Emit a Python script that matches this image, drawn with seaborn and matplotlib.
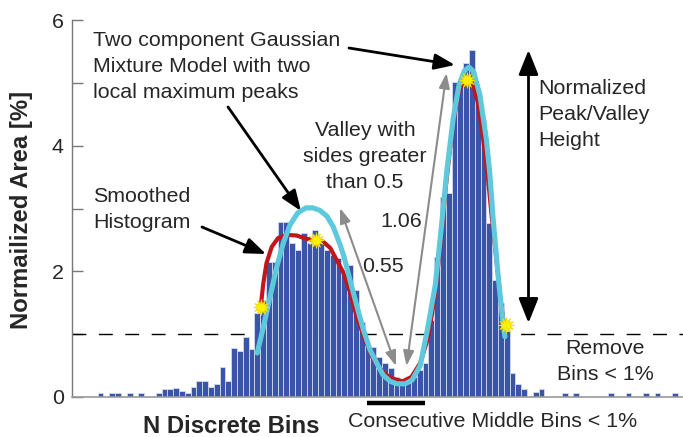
import matplotlib
matplotlib.use("Agg")
import matplotlib.pyplot as plt
import numpy as np
import pandas as pd
import seaborn as sns

# normalized area [%] of each discrete bin (bins 0..99)
bin_area = [
    0.07, 0.00, 0.07, 0.07, 0.00, 0.07, 0.00, 0.07, 0.00, 0.00,   # 0-9
    0.07, 0.12, 0.12, 0.15, 0.10, 0.07, 0.16, 0.25, 0.25, 0.16,   # 10-19
    0.20, 0.47, 0.25, 0.78, 0.73, 0.95, 0.77, 1.33, 1.55, 2.15,   # 20-29
    2.15, 2.79, 2.79, 2.45, 2.34, 2.61, 2.45, 2.66, 2.45, 2.34,   # 30-39
    2.26, 2.21, 1.94, 2.10, 1.70, 1.20, 0.80, 0.80, 0.64, 0.54,   # 40-49
    0.46, 0.32, 0.27, 0.22, 0.32, 0.43, 0.54, 1.23, 2.23, 3.19,   # 50-59
    3.24, 5.02, 4.94, 5.31, 5.52, 4.80, 4.41, 2.77, 1.86, 1.50,   # 60-69
    1.05, 0.38, 0.20, 0.12, 0.00, 0.08, 0.12, 0.00, 0.00, 0.00,   # 70-79
    0.06, 0.00, 0.06, 0.00, 0.00, 0.00, 0.00, 0.00, 0.06, 0.00,   # 80-89
    0.00, 0.06, 0.00, 0.00, 0.06, 0.00, 0.06, 0.00, 0.00, 0.06,   # 90-99
]

# smoothed histogram (red)
smooth_x = [27.6, 28.05, 28.6, 29.5, 30.6, 32.1, 33.8, 35.4, 36.7, 38.4,
            39.6, 40.7, 41.8, 43.0, 44.2, 45.6, 46.8, 48.2, 49.55, 50.8,
            52.1, 53.6, 55.1, 56.45, 57.5, 58.5, 59.55, 60.6, 61.6, 62.5,
            63.3, 64.1, 65.0, 65.9, 66.8, 67.4, 68.0, 68.9, 69.4, 69.9]
smooth_y = [1.43, 1.81, 2.13, 2.39, 2.53, 2.58, 2.57, 2.52, 2.50, 2.47,
            2.37, 2.18, 1.99, 1.67, 1.26, 0.91, 0.64, 0.45, 0.33, 0.28,
            0.25, 0.32, 0.54, 0.94, 1.54, 2.34, 3.38, 4.25, 4.81, 5.02,
            5.07, 5.00, 4.70, 4.15, 3.46, 2.90, 2.39, 1.60, 1.23, 1.14]

# two component gaussian mixture fit (cyan)
gmm_x = [27.0, 28.05, 29.2, 30.36, 31.5, 32.66, 34.0, 35.4, 36.6, 37.8,
         39.0, 40.1, 41.3, 42.0, 43.0, 44.2, 45.3, 46.45, 47.6, 48.7,
         49.9, 51.1, 52.5, 53.7, 55.1, 56.4, 57.7, 58.7, 59.7, 60.8,
         61.8, 62.7, 63.5, 64.3, 65.4, 66.5, 67.1, 67.7, 68.6, 69.2, 69.7]
gmm_y = [0.70, 1.11, 1.59, 2.07, 2.45, 2.74, 2.93, 3.01, 3.01, 2.97,
         2.88, 2.71, 2.42, 2.22, 1.86, 1.44, 1.07, 0.75, 0.54, 0.35,
         0.25, 0.21, 0.21, 0.27, 0.50, 1.10, 1.78, 2.66, 3.61, 4.44,
         4.97, 5.19, 5.25, 5.18, 4.80, 4.10, 3.55, 2.80, 1.86, 1.33, 0.96]

# yellow markers on the smoothed histogram
mark_x = [27.6, 37.1, 63.2, 69.9]
mark_y = [1.43, 2.50, 5.05, 1.14]

BAR_BLUE = "#3a54a8"
RED = "#c2161d"
CYAN = "#5ec8dc"
GREY = "#8c8c8c"
FONT = "Liberation Sans"
FS = 15.4

W, H = 683, 437


def main() -> None:
    sns.set_style("white")
    plt.rcParams["font.family"] = [FONT, "DejaVu Sans"]

    fig = plt.figure(figsize=(W / 100, H / 100), dpi=100)
    ax = fig.add_axes([72 / W, 40 / H, (W - 72) / W, 377 / H])

    df = pd.DataFrame({"bin": np.arange(len(bin_area)), "area": bin_area})
    sns.barplot(data=df[df["area"] > 0], x="bin", y="area", native_scale=True,
                width=1.0, color=BAR_BLUE, saturation=1, errorbar=None,
                edgecolor="#d4daee", linewidth=0.6, ax=ax, zorder=2)

    ax.axhline(1, color="black", lw=1.0, ls=(0, (10, 9)), zorder=1)

    ax.plot(smooth_x, smooth_y, color=RED, lw=3.0, solid_capstyle="round", zorder=4)
    ax.plot(gmm_x, gmm_y, color=CYAN, lw=3.7, solid_capstyle="round", zorder=5)
    ax.scatter(mark_x, mark_y, marker=(12, 1, 0), s=130, color="#fff000",
               edgecolor="#f2d900", linewidth=0.5, zorder=6)

    ax.set_xlim(-4.93, 100.4)
    ax.set_ylim(0, 6)
    ax.set_xticks([])
    ax.set_yticks([0, 2, 4, 6])
    ax.set_yticks([1, 3, 5], minor=True)
    ax.tick_params(axis="y", which="both", direction="in", length=8, width=1,
                   color="#777777", labelsize=FS, pad=6, left=True)
    ax.set_xlabel("")
    ax.set_ylabel("")
    for side in ["top", "right"]:
        ax.spines[side].set_visible(False)
    ax.spines["left"].set_color("#777777")
    ax.spines["left"].set_linewidth(1.0)
    ax.spines["bottom"].set_color("#9a9a9a")
    ax.spines["bottom"].set_linewidth(1.2)

    # run of consecutive middle bins below 1%
    run = [i for i in range(int(np.argmax(bin_area[:50])), 64) if bin_area[i] < 1]
    ax.plot([run[0] - 0.1, run[-1] - 0.1], [-0.096, -0.096], color="black",
            lw=3.2, solid_capstyle="butt", clip_on=False)

    def fp(x, y):
        return (x, H - y)

    black = dict(arrowstyle="-|>,head_length=0.62,head_width=0.24", lw=2.0,
                 color="black", shrinkA=0, shrinkB=0, mutation_scale=20)
    grey = dict(arrowstyle="<|-|>,head_length=0.45,head_width=0.16", lw=1.5,
                color=GREY, shrinkA=0, shrinkB=0, mutation_scale=20)
    fpx = "figure pixels"

    ax.annotate("", xy=fp(301, 211), xytext=fp(228, 107), xycoords=fpx,
                textcoords=fpx, arrowprops=black)
    ax.annotate("", xy=fp(455, 65), xytext=fp(349, 48), xycoords=fpx,
                textcoords=fpx, arrowprops=black)
    ax.annotate("", xy=fp(266, 254), xytext=fp(202, 227), xycoords=fpx,
                textcoords=fpx, arrowprops=black)
    ax.annotate("", xy=fp(396, 366), xytext=fp(340, 208), xycoords=fpx,
                textcoords=fpx, arrowprops=grey)
    ax.annotate("", xy=fp(406.5, 366), xytext=fp(446.5, 73), xycoords=fpx,
                textcoords=fpx, arrowprops=grey)
    ax.annotate("", xy=fp(528.5, 323), xytext=fp(528.5, 50), xycoords=fpx,
                textcoords=fpx,
                arrowprops=dict(arrowstyle="<|-|>,head_length=0.75,head_width=0.3",
                                lw=2.0, color="black", shrinkA=0, shrinkB=0,
                                mutation_scale=20))

    def label(x, y, s, ha="left", va="top", **kw):
        fig.text(x / W, 1 - y / H, s, ha=ha, va=va, fontsize=kw.pop("fontsize", FS),
                 linespacing=1.48, **kw)

    label(93, 31, "Two component Gaussian\nMixture Model with two\nlocal maximum peaks")
    label(93, 187, "Smoothed\nHistogram")
    label(365, 121, "Valley with\nsides greater\nthan 0.5", ha="center")
    label(401.7, 226.7, "1.06", ha="center", va="baseline")
    label(383.3, 271.7, "0.55", ha="center", va="baseline")
    label(538.5, 79, "Normalized\nPeak/Valley\nHeight")
    label(605, 339, "Remove\nBins < 1%", ha="center")
    label(492.5, 426.7, "Consecutive Middle Bins < 1%", ha="center", va="baseline")
    label(231.5, 433.3, "N Discrete Bins", ha="center", va="baseline",
          fontsize=17.2, fontweight="bold")
    label(22, 210, "Normailized Area [%]", ha="center", va="center",
          fontsize=17.2, fontweight="bold", rotation=90)

    fig.savefig("out.png", dpi=100)
    plt.close(fig)


if __name__ == "__main__":
    main()
